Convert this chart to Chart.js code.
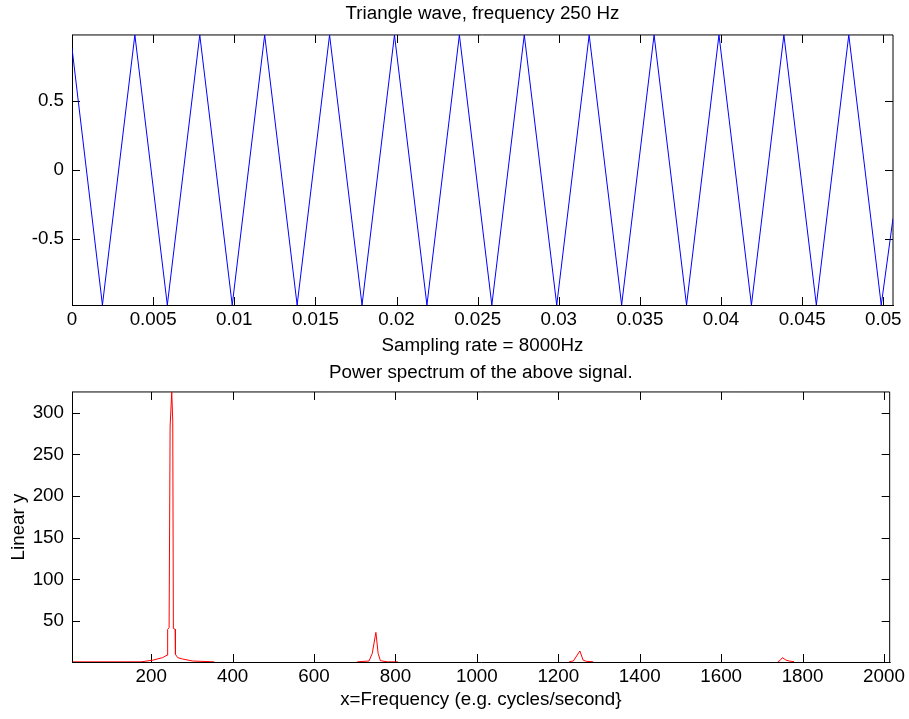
<!DOCTYPE html>
<html>
<head>
<meta charset="utf-8">
<title>Triangle wave and power spectrum</title>
<script src="https://cdn.jsdelivr.net/npm/chart.js@4/dist/chart.umd.min.js"></script>
<style>
    html, body { margin: 0; padding: 0; background: #fff; overflow: hidden; }
    canvas { display: block; }
</style>
</head>
<body>
<canvas id="chart-wave" width="909" height="360"></canvas>
<canvas id="chart-spectrum" width="909" height="359"></canvas>
<script>
// Triangle wave vertices (seconds, amplitude)
const waveTime = [0, 0.001875, 0.003875, 0.005875, 0.007875, 0.009875, 0.011875, 0.013875,
    0.015875, 0.017875, 0.019875, 0.021875, 0.023875, 0.025875, 0.027875, 0.029875,
    0.031875, 0.033875, 0.035875, 0.037875, 0.039875, 0.041875, 0.043875, 0.045875,
    0.047875, 0.049875, 0.0506];
const waveValue = [0.88, -0.975, 0.975, -0.975, 0.975, -0.975, 0.975, -0.975,
    0.975, -0.975, 0.975, -0.975, 0.975, -0.975, 0.975, -0.975,
    0.975, -0.975, 0.975, -0.975, 0.975, -0.975, 0.975, -0.975,
    0.975, -0.975, -0.35];
const waveXTicks = [0, 0.005, 0.01, 0.015, 0.02, 0.025, 0.03, 0.035, 0.04, 0.045, 0.05];
const waveYTicks = [-0.5, 0, 0.5];

// Power spectrum (Hz, linear power); null = no line drawn there
const specFreq = [8, 175, 204, 228, 239, 240.5, 244, 246.5, 250.5, 253, 254.5, 259, 259.6, 265, 277, 302, 355,
    null,
    706, 735, 743, 752, 757.5, 763, 780, 806,
    null,
    1227, 1237, 1253, 1261, 1269, 1286,
    null,
    1739, 1745, 1750.5, 1759, 1767, 1779];
const specPower = [1, 1, 3, 6, 9, 40, 42, 284, 325, 290, 41, 40, 10, 6, 4.4, 2, 1,
    null,
    1, 2, 11, 36.4, 11, 2.4, 1, 1,
    null,
    1.2, 2, 14, 3, 1.6, 1,
    null,
    1, 2.8, 6, 3.2, 2, 1.2];
const specXTicks = [200, 400, 600, 800, 1000, 1200, 1400, 1600, 1800, 2000];
const specYTicks = [50, 100, 150, 200, 250, 300];

const FONT = "'Liberation Sans', Arial, Helvetica, sans-serif";
const FONT_SIZE = 18.8;
Chart.defaults.font.family = FONT;
Chart.defaults.font.size = FONT_SIZE;
Chart.defaults.font.lineHeight = 1.2;
Chart.defaults.color = '#000';

// MATLAB-like box: black left/bottom, soft top/right, ticks pointing inward on all sides
const matlabFrame = {
    id: 'matlabFrame',
    beforeDatasetsDraw(chart, args, opts) {
        const { ctx, chartArea: a, scales } = chart;
        const tl = 8;
        ctx.save();
        ctx.lineWidth = 1;
        ctx.strokeStyle = '#000';

        ctx.beginPath();
        ctx.moveTo(a.left + 0.5, a.top);
        ctx.lineTo(a.left + 0.5, a.bottom + 1);
        ctx.moveTo(a.left, a.bottom + 0.5);
        ctx.lineTo(a.right + 1, a.bottom + 0.5);
        ctx.stroke();

        ctx.beginPath();
        ctx.moveTo(a.left, a.top);
        ctx.lineTo(a.right, a.top);
        ctx.lineTo(a.right, a.bottom + 1);
        ctx.stroke();

        ctx.beginPath();
        opts.xTicks.forEach(v => {
            const px = Math.round(scales.x.getPixelForValue(v)) + 0.5;
            ctx.moveTo(px, a.bottom);
            ctx.lineTo(px, a.bottom - tl);
            ctx.moveTo(px, a.top);
            ctx.lineTo(px, a.top + tl);
        });
        opts.yTicks.forEach(v => {
            const py = Math.round(scales.y.getPixelForValue(v)) + 0.5;
            ctx.moveTo(a.left, py);
            ctx.lineTo(a.left + tl, py);
            ctx.moveTo(a.right, py);
            ctx.lineTo(a.right - tl, py);
        });
        ctx.stroke();
        ctx.restore();
    }
};

function fixedTicks(values) {
    return scale => { scale.ticks = values.map(v => ({ value: v })); };
}

function buildChart(id, cfg) {
    const points = cfg.xs.map((x, i) => ({ x: x, y: cfg.ys[i] }));
    return new Chart(document.getElementById(id), {
        type: 'line',
        data: {
            datasets: [{
                data: points,
                borderColor: cfg.color,
                borderWidth: 1,
                pointRadius: 0,
                tension: 0,
                fill: false,
                spanGaps: false
            }]
        },
        plugins: [matlabFrame],
        options: {
            responsive: false,
            animation: false,
            events: [],
            layout: { padding: { left: 0, right: 16, top: 0, bottom: 0 } },
            plugins: {
                legend: { display: false },
                tooltip: { enabled: false },
                title: {
                    display: true,
                    fullSize: false,
                    text: cfg.title,
                    color: '#000',
                    font: { size: FONT_SIZE, weight: 'normal' },
                    padding: cfg.titlePad
                },
                matlabFrame: { xTicks: cfg.xTicks, yTicks: cfg.yTicks }
            },
            scales: {
                x: {
                    type: 'linear',
                    min: cfg.xMin,
                    max: cfg.xMax,
                    grid: { display: false, drawTicks: false },
                    border: { display: false },
                    afterBuildTicks: fixedTicks(cfg.xTicks),
                    afterFit: s => { s.height = cfg.xAxisHeight; },
                    ticks: { autoSkip: false, maxRotation: 0, padding: 4, callback: v => String(v) },
                    title: {
                        display: true,
                        text: cfg.xLabel,
                        color: '#000',
                        padding: { top: 0, bottom: cfg.xLabelPad }
                    }
                },
                y: {
                    type: 'linear',
                    min: cfg.yMin,
                    max: cfg.yMax,
                    grid: { display: false, drawTicks: false },
                    border: { display: false },
                    afterBuildTicks: fixedTicks(cfg.yTicks),
                    afterFit: s => { s.width = 72; },
                    ticks: { padding: 8, callback: v => String(v) },
                    title: {
                        display: !!cfg.yLabel,
                        text: cfg.yLabel || '',
                        color: '#000',
                        padding: { top: 7.2, bottom: 0 }
                    }
                }
            }
        }
    });
}

buildChart('chart-wave', {
    xs: waveTime, ys: waveValue, color: '#0000ff',
    title: 'Triangle wave, frequency 250 Hz',
    titlePad: { top: 2.7, bottom: 9.7 },
    xLabel: 'Sampling rate = 8000Hz', xLabelPad: 3.1, xAxisHeight: 55,
    xMin: 0, xMax: 0.0506, yMin: -0.975, yMax: 0.975,
    xTicks: waveXTicks, yTicks: waveYTicks
});

buildChart('chart-spectrum', {
    xs: specFreq, ys: specPower, color: '#ff0000',
    title: 'Power spectrum of the above signal.',
    titlePad: { top: 1.7, bottom: 7.7 },
    xLabel: 'x=Frequency (e.g. cycles/second}', xLabelPad: 7.4, xAxisHeight: 57,
    yLabel: 'Linear y',
    xMin: 5.5, xMax: 2014, yMin: 0.8, yMax: 325,
    xTicks: specXTicks, yTicks: specYTicks
});
</script>
</body>
</html>
